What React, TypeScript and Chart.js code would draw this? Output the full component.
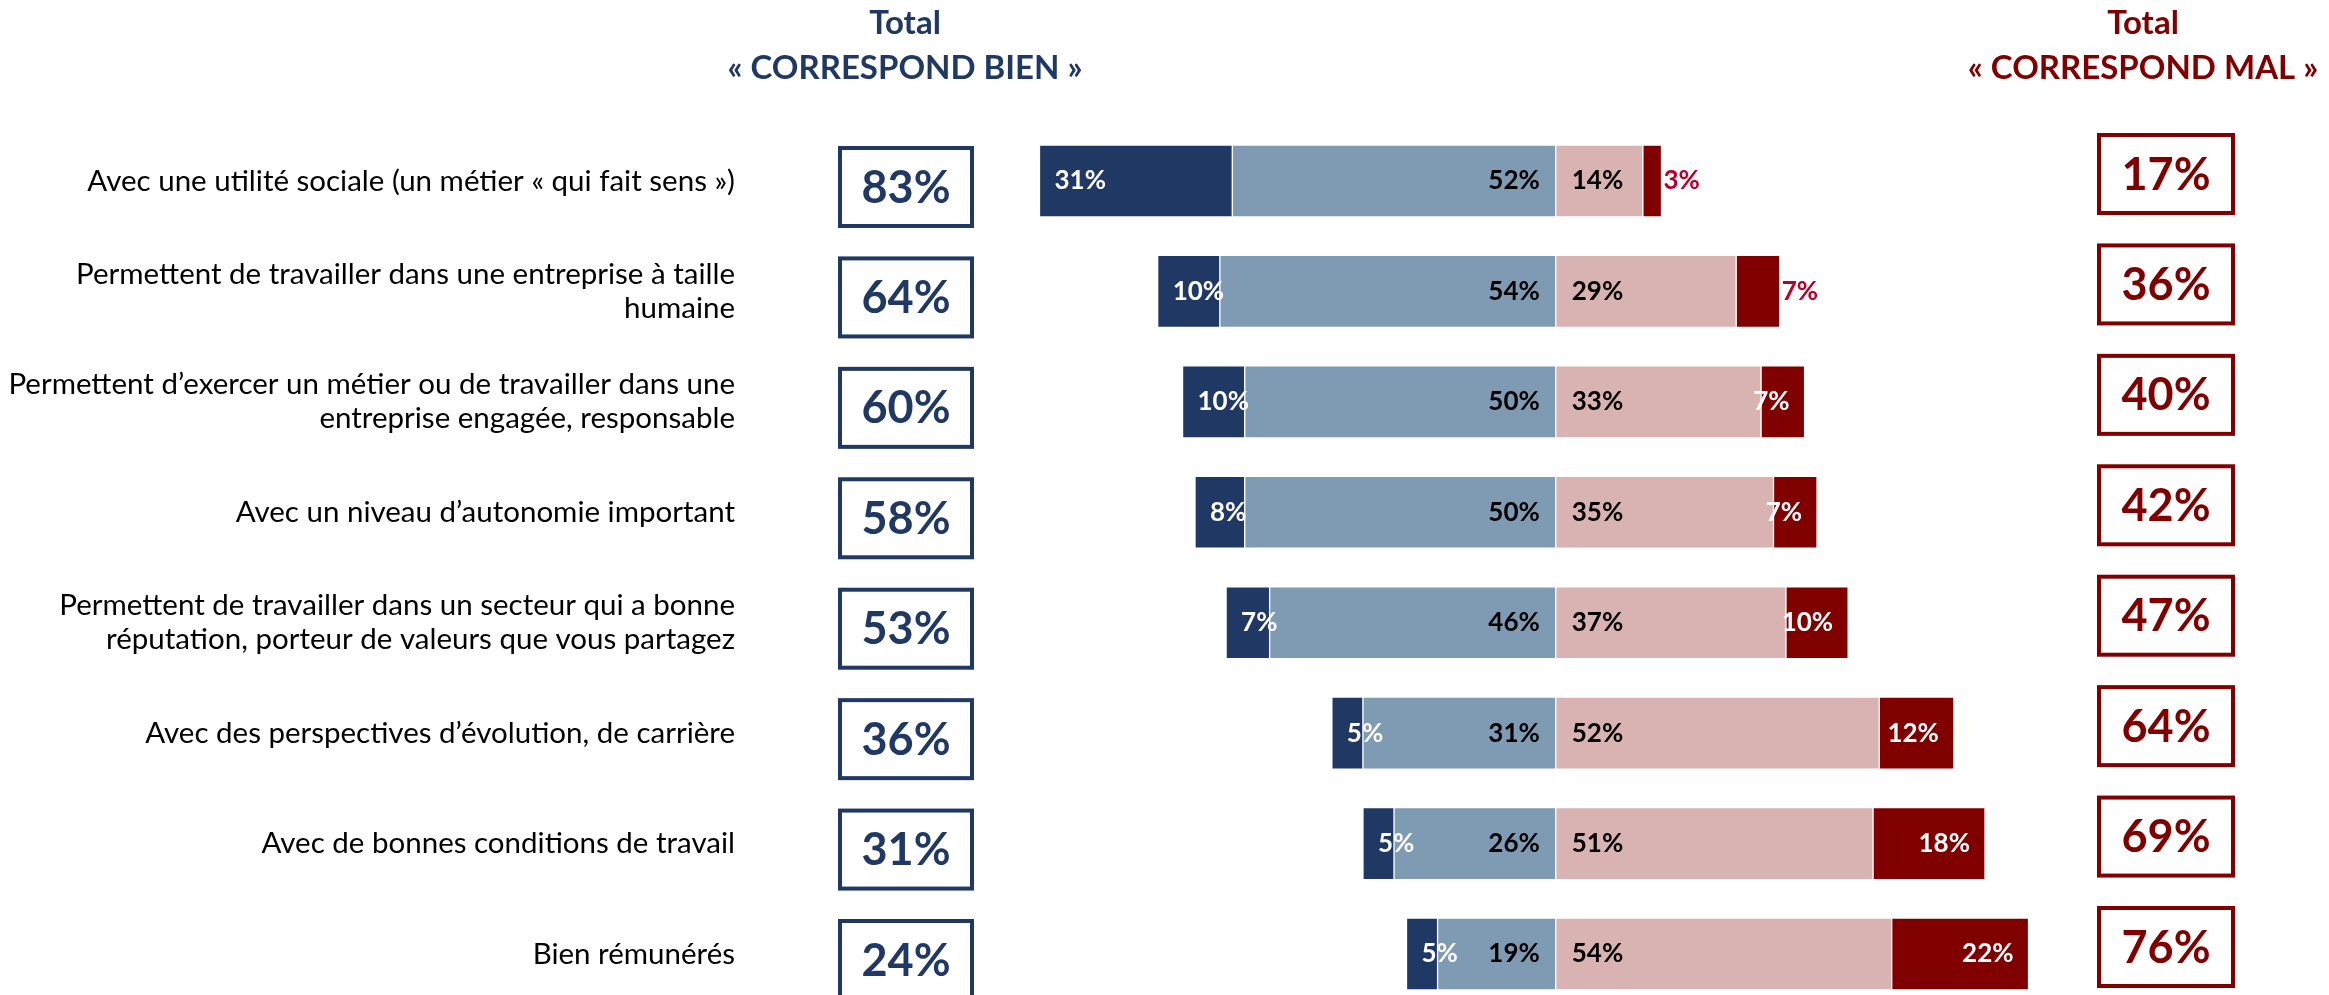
import React, { useEffect, useRef } from "react";
import { Chart, registerables } from "chart.js";

Chart.register(...registerables);

// ---------- DATA ----------
const categories: string[][] = [
  ["Avec une utilité sociale (un métier « qui fait sens »)"],
  ["Permettent de travailler dans une entreprise à taille", "humaine"],
  ["Permettent d’exercer un métier ou de travailler dans une", "entreprise engagée, responsable"],
  ["Avec un niveau d’autonomie important"],
  ["Permettent de travailler dans un secteur qui a bonne", "réputation, porteur de valeurs que vous partagez"],
  ["Avec des perspectives d’évolution, de carrière"],
  ["Avec de bonnes conditions de travail"],
  ["Bien rémunérés"],
];
const veryWell = [31, 10, 10, 8, 7, 5, 5, 5];
const fairlyWell = [52, 54, 50, 50, 46, 31, 26, 19];
const fairlyBad = [14, 29, 33, 35, 37, 52, 51, 54];
const veryBad = [3, 7, 7, 7, 10, 12, 18, 22];
const totalWell = [83, 64, 60, 58, 53, 36, 31, 24];
const totalBad = [17, 36, 40, 42, 47, 64, 69, 76];
const headerWell = ["Total", "« CORRESPOND BIEN »"];
const headerBad = ["Total", "« CORRESPOND MAL »"];

// ---------- STYLE ----------
const C_DARK_BLUE = "#203864";
const C_LIGHT_BLUE = "#7F9AB3";
const C_PINK = "#D9B2B2";
const C_DARK_RED = "#800000";
const C_CRIMSON = "#B8002A";
const C_HEAD_BLUE = "#1F3864";
const C_HEAD_RED = "#800000";
const FONT = "Lato, 'Open Sans', sans-serif";
const OUTSIDE_RED_ROWS = [0, 1];

const overlayPlugin = {
  id: "overlay",
  afterDatasetsDraw(chart: any) {
    const ctx = chart.ctx;
    ctx.save();
    ctx.font = `bold 26px ${FONT}`;
    ctx.textBaseline = "middle";
    const metas = [0, 1, 2, 3].map((i) => chart.getDatasetMeta(i));
    const values = [fairlyWell, veryWell, fairlyBad, veryBad];
    for (let d = 0; d < 4; d++) {
      metas[d].data.forEach((el: any, i: number) => {
        const left = Math.min(el.x, el.base);
        const right = Math.max(el.x, el.base);
        const y = el.y;
        const txt = values[d][i] + "%";
        if (d === 1) {
          ctx.fillStyle = "#FFFFFF";
          ctx.textAlign = "left";
          ctx.fillText(txt, left + 15, y);
        } else if (d === 0) {
          ctx.fillStyle = "#000000";
          ctx.textAlign = "right";
          ctx.fillText(txt, right - 16, y);
        } else if (d === 2) {
          ctx.fillStyle = "#000000";
          ctx.textAlign = "left";
          ctx.fillText(txt, left + 16, y);
        } else {
          if (OUTSIDE_RED_ROWS.includes(i)) {
            ctx.fillStyle = C_CRIMSON;
            ctx.textAlign = "left";
            ctx.fillText(txt, right + 2, y);
          } else {
            ctx.fillStyle = "#FFFFFF";
            ctx.textAlign = "right";
            ctx.fillText(txt, right - 15, y);
          }
        }
      });
    }
    ctx.restore();
  },
  afterDraw(chart: any) {
    const ctx = chart.ctx;
    const yScale = chart.scales.y;
    ctx.save();
    ctx.textBaseline = "middle";

    // headers
    ctx.font = `bold 33px ${FONT}`;
    ctx.textAlign = "center";
    ctx.fillStyle = C_HEAD_BLUE;
    ctx.fillText(headerWell[0], 905, 23);
    ctx.fillText(headerWell[1], 905, 68);
    ctx.fillStyle = C_HEAD_RED;
    ctx.fillText(headerBad[0], 2143, 23);
    ctx.fillText(headerBad[1], 2143, 68);

    categories.forEach((lines, i) => {
      const yc = yScale.getPixelForValue(i);
      // category label
      ctx.font = `29.5px ${FONT}`;
      ctx.fillStyle = "#000000";
      ctx.textAlign = "right";
      const lh = 34;
      const y0 = yc - ((lines.length - 1) * lh) / 2;
      lines.forEach((ln, k) => ctx.fillText(ln, 735, y0 + k * lh));

      // blue box
      ctx.lineWidth = 4;
      ctx.strokeStyle = C_HEAD_BLUE;
      ctx.strokeRect(906 - 66, yc + 6 - 39, 132, 78);
      ctx.font = `bold 45px ${FONT}`;
      ctx.fillStyle = C_HEAD_BLUE;
      ctx.textAlign = "center";
      ctx.fillText(totalWell[i] + "%", 906, yc + 7);

      // red box
      ctx.strokeStyle = C_HEAD_RED;
      ctx.strokeRect(2166 - 67, yc - 7 - 39, 134, 78);
      ctx.fillStyle = C_HEAD_RED;
      ctx.fillText(totalBad[i] + "%", 2166, yc - 6);
    });
    ctx.restore();
  },
};

export default function App() {
  const ref = useRef<HTMLCanvasElement>(null);
  useEffect(() => {
    document.body.style.margin = "0";
    const labels = categories.map((c) => c.join(" "));
    const common = { barThickness: 72, borderWidth: 1, borderColor: "#FFFFFF", borderSkipped: false, clip: false };
    const chart = new Chart(ref.current!, {
      type: "bar",
      data: {
        labels,
        datasets: [
          { label: "Plutôt bien", data: fairlyWell.map((v) => -v), backgroundColor: C_LIGHT_BLUE, ...common },
          { label: "Très bien", data: veryWell.map((v) => -v), backgroundColor: C_DARK_BLUE, ...common },
          { label: "Plutôt mal", data: fairlyBad, backgroundColor: C_PINK, ...common },
          { label: "Très mal", data: veryBad, backgroundColor: C_DARK_RED, ...common },
        ] as any,
      },
      options: {
        indexAxis: "y",
        animation: false,
        responsive: false,
        layout: { padding: { top: 181, bottom: 41, left: 0, right: 0 } },
        scales: {
          x: { stacked: true, display: false, min: -250.1, max: 124.3, grid: { display: false } },
          y: { stacked: true, display: false, offset: false, grid: { display: false } },
        },
        plugins: { legend: { display: false }, tooltip: { enabled: false } },
      },
      plugins: [overlayPlugin],
    });
    return () => chart.destroy();
  }, []);
  return (
    <div style={{ position: "absolute", left: 0, top: 0, width: 2329, height: 995, background: "#fff" }}>
      <canvas ref={ref} width={2329} height={995} style={{ display: "block" }} />
    </div>
  );
}
